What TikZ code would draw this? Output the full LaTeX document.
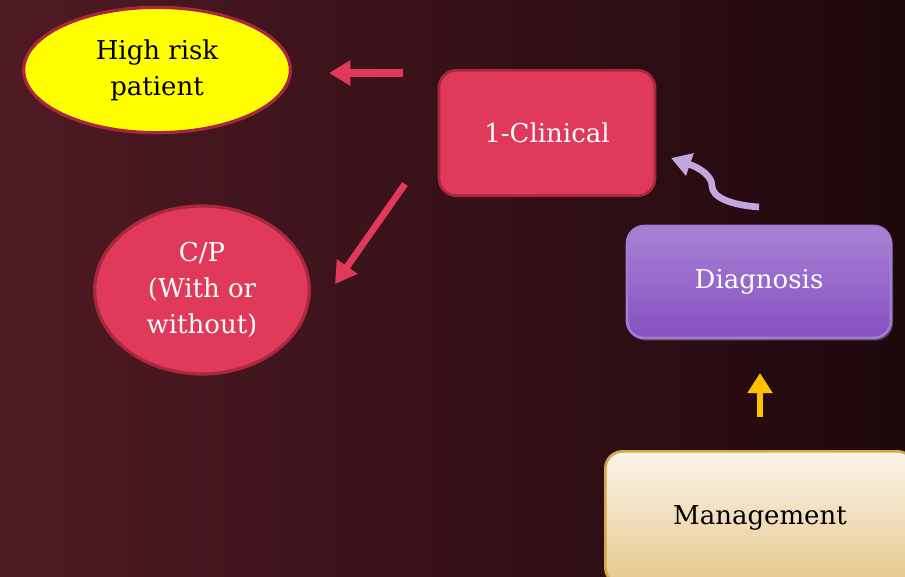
\documentclass[tikz,border=0pt]{standalone}
\usepackage{fontspec}
\setmainfont{DejaVu Serif}
\usetikzlibrary{arrows.meta,shapes.geometric,shadows}

\definecolor{bgleft}{RGB}{80,26,36}
\definecolor{bgright}{RGB}{30,8,12}
\definecolor{clinred}{RGB}{224,57,90}
\definecolor{clinedge}{RGB}{168,40,62}
\definecolor{hiyellow}{RGB}{255,255,0}
\definecolor{diagtop}{RGB}{168,130,212}
\definecolor{diagbot}{RGB}{134,80,192}
\definecolor{diagedge}{RGB}{162,124,212}
\definecolor{mgmttop}{RGB}{250,244,234}
\definecolor{mgmtbot}{RGB}{230,200,140}
\definecolor{mgmtedge}{RGB}{212,168,74}
\definecolor{lavender}{RGB}{194,166,222}
\definecolor{amber}{RGB}{255,192,0}

\tikzset{
  lbl/.style={font=\fontsize{19.5}{27}\selectfont, align=center, inner sep=0pt},
  oval/.style={ellipse, lbl, line width=2.4pt, draw=clinedge},
  roundbox/.style={rectangle, rounded corners=13pt, lbl, line width=2pt},
  redarrow/.style={draw=clinred, line width=6pt, -{Triangle[width=18pt,length=16pt]}},
  lavarrow/.style={draw=lavender, line width=5pt, -{Triangle[width=17pt,length=15pt]}},
  amberarrow/.style={draw=amber, line width=5pt, -{Triangle[width=18pt,length=15pt]}},
}

\begin{document}
\begin{tikzpicture}[x=0.75pt, y=-0.75pt]
  % canvas and backdrop
  \clip (0,0) rectangle (905,576);
  \useasboundingbox (0,0) rectangle (905,576);
  \shade[left color=bgleft, right color=bgright] (0,0) rectangle (905,576);

  % nodes
  \node[oval, fill=hiyellow, text=black, minimum width=200pt, minimum height=94pt]
    (hr) at (157,70) {High risk\\patient};
  \node[roundbox, fill=clinred, draw=clinedge, text=white,
        minimum width=162pt, minimum height=94pt]
    (clin) at (547,133) {1-Clinical};
  \node[oval, fill=clinred, text=white, minimum width=161pt, minimum height=126pt]
    (cp) at (202,290) {C/P\\(With or\\without)};
  \node[roundbox, top color=diagtop, bottom color=diagbot, draw=diagedge, text=white,
        minimum width=198pt, minimum height=84pt,
        drop shadow={opacity=0.45, shadow xshift=1.5pt, shadow yshift=-2pt}]
    (diag) at (759,282) {Diagnosis};
  \node[roundbox, top color=mgmttop, bottom color=mgmtbot, draw=mgmtedge, text=black,
        minimum width=232pt, minimum height=100pt]
    (mgmt) at (760,518) {Management};

  % arrow end points
  \coordinate (a1s) at (403,73);
  \coordinate (a1e) at (329,73);
  \coordinate (a2s) at (405,184);
  \coordinate (a2e) at (335,284);
  \coordinate (a3s) at (759,207);
  \coordinate (a3e) at (671,158);
  \coordinate (a4s) at (760,417);
  \coordinate (a4e) at (760,373);

  % connectors
  \draw[redarrow] (a1s) -- (a1e);
  \draw[redarrow, line width=5pt] (a2s) -- (a2e);
  \draw[lavarrow] (a3s) .. controls (730,205) and (712,197) .. (712,186)
                        .. controls (712,176) and (700,168) .. (a3e);
  \draw[amberarrow] (a4s) -- (a4e);
\end{tikzpicture}
\end{document}
